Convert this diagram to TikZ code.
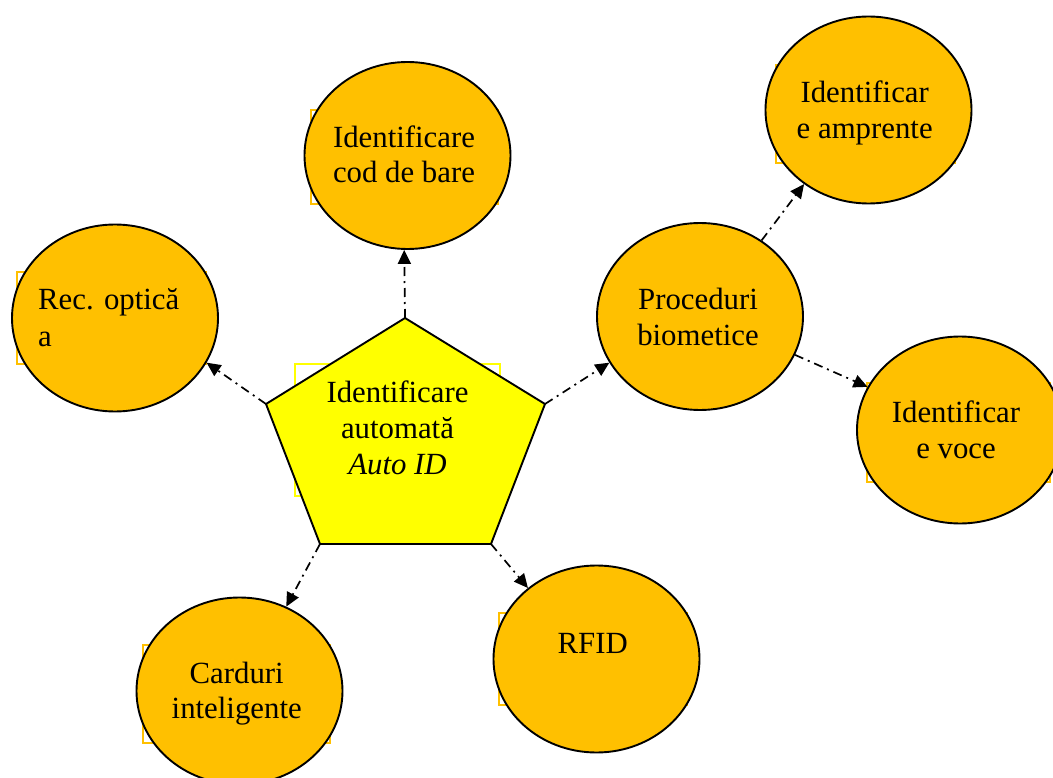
\documentclass[tikz,border=0pt]{standalone}
\usepackage{fontspec}
\setmainfont{Liberation Serif}
\usetikzlibrary{shapes.geometric,arrows.meta}
\definecolor{gold}{HTML}{FFC000}
\definecolor{yel}{HTML}{FFFF00}
\begin{document}
\begin{tikzpicture}[x=1pt,y=-1pt,
  bubble/.style={ellipse,draw=black,fill=gold,line width=1.9pt,minimum width=206pt,minimum height=187pt,inner sep=0pt},
  tbox/.style={draw=gold,line width=1.6pt},
  lbl/.style={font={\fontsize{30.8}{36}\selectfont},inner sep=0pt,anchor=base},
  lbll/.style={font={\fontsize{30.8}{36}\selectfont},inner sep=0pt,anchor=base west},
  conn/.style={line width=1.7pt,dash pattern=on 9pt off 5pt on 2pt off 5pt,-{Triangle[length=14pt,width=13pt]}}]
\clip (0,0) rectangle (1053,778);
\fill[white] (0,0) rectangle (1053,778);
% text box outlines
\draw[tbox] (311,110) rectangle (498,204);
\draw[tbox] (17,272) rectangle (206,364);
\draw[tbox] (776,65) rectangle (955,163);
\draw[tbox] (867,383) rectangle (1050,482);
\draw[tbox] (143,645) rectangle (330,743);
\draw[tbox] (499,613) rectangle (687,705);
\draw[draw=yel,line width=1.6pt] (295,364) rectangle (500,496);
% ellipses
\node[bubble] (cod) at (407.5,155.5) {};
\node[bubble] (rec) at (115,318) {};
\node[bubble] (proc) at (700,316.5) {};
\node[bubble] (amp) at (868.5,110) {};
\node[bubble] (voce) at (960,430) {};
\node[bubble] (card) at (239.5,691) {};
\node[bubble] (rfid) at (596.5,659) {};
% pentagon
\coordinate (pT) at (405,318);
\coordinate (pR) at (545,404);
\coordinate (pBR) at (491,544);
\coordinate (pBL) at (320,544);
\coordinate (pL) at (266,404);
\draw[fill=yel,line width=1.9pt,line join=miter] (pT) -- (pR) -- (pBR) -- (pBL) -- (pL) -- cycle;
% texts
\node[lbl] (t1) at (397.5,402) {Identificare};
\node[lbl] (t2) at (397.5,438) {automată};
\node[lbl] (t3) at (397.5,474) {\textit{Auto ID}};
\node[lbl] (c1) at (404,148) {Identificare};
\node[lbl] (c2) at (404,183) {cod de bare};
\node[lbll] (r1) at (38,310) {Rec. optică};
\node[lbll] (r2) at (38,346) {a};
\node[lbl] (p1) at (698,310) {Proceduri};
\node[lbl] (p2) at (698,345) {biometice};
\node[lbl] (a1) at (864.7,103) {Identificar};
\node[lbl] (a2) at (864.7,139) {e amprente};
\node[lbl] (v1) at (956,422) {Identificar};
\node[lbl] (v2) at (956,458) {e voce};
\node[lbl] (k1) at (236.7,683) {Carduri};
\node[lbl] (k2) at (236.7,718) {inteligente};
\node[lbl] (f1) at (592.7,653) {RFID};
% connectors
\draw[conn] (pT) -- (cod.-92);
\draw[conn] (pL) -- (rec.-26.6);
\draw[conn] (pR) -- (proc.207.8);
\draw[conn] (pBL) -- (card.61.4);
\draw[conn] (pBR) -- (rfid.134.4);
\draw[conn] (proc.51) -- (amp.229.2);
\draw[conn] (proc.-22.3) -- (voce.155.1);
\end{tikzpicture}
\end{document}
